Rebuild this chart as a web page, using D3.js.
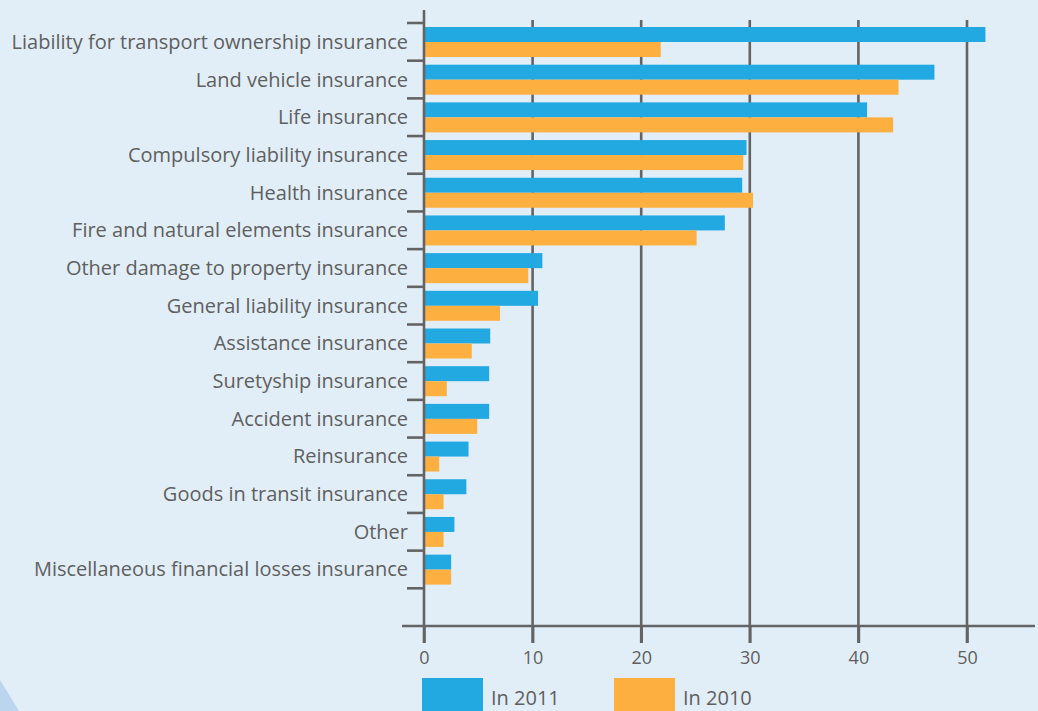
<!DOCTYPE html>
<html><head><meta charset="utf-8">
<script src="https://cdn.jsdelivr.net/npm/d3@7"></script>
<style>html,body{margin:0;padding:0;background:#e1eef8;overflow:hidden}</style>
</head><body>
<svg id="c" width="1038" height="711"></svg>
<script>
const categories = [
  "Liability for transport ownership insurance",
  "Land vehicle insurance",
  "Life insurance",
  "Compulsory liability insurance",
  "Health insurance",
  "Fire and natural elements insurance",
  "Other damage to property insurance",
  "General liability insurance",
  "Assistance insurance",
  "Suretyship insurance",
  "Accident insurance",
  "Reinsurance",
  "Goods in transit insurance",
  "Other",
  "Miscellaneous financial losses insurance"
];
const values2011 = [51.7, 47.0, 40.8, 29.7, 29.3, 27.7, 10.9, 10.5, 6.1, 6.0, 6.0, 4.1, 3.9, 2.8, 2.5];
const values2010 = [21.8, 43.7, 43.2, 29.4, 30.3, 25.1, 9.6, 7.0, 4.4, 2.1, 4.9, 1.4, 1.8, 1.8, 2.5];
const xTicks = [0, 10, 20, 30, 40, 50];
const seriesNames = ["In 2011", "In 2010"];
const colors = ["#23a9e1", "#fdb040"];

const svg = d3.select("#c");
const lineCol = "#646464";
const textCol = "#5f5f5f";
const font = "'Open Sans', Lato, sans-serif";

// background corner shape
svg.append("path").attr("d", "M0,680 L19,711 L0,711 Z").attr("fill", "#bcd5ee");

const x0 = 424, xEnd = 1035;
const x = d3.scaleLinear().domain([0, 50]).range([x0, 967]);
const slots = categories.concat(["__empty"]);
const y = d3.scaleBand().domain(slots).range([23, 626]).paddingInner(0).paddingOuter(0);
const barH = 15;

// gridlines
svg.append("g").selectAll("line").data(xTicks.slice(1)).join("line")
  .attr("x1", d => x(d)).attr("x2", d => x(d))
  .attr("y1", 20).attr("y2", 643)
  .attr("stroke", lineCol).attr("stroke-width", 2.6);

// bars
const g = svg.append("g");
categories.forEach((c, i) => {
  [values2011[i], values2010[i]].forEach((v, s) => {
    g.append("rect")
      .attr("x", x(0)).attr("y", y(c) + 4 + s * barH)
      .attr("width", x(v) - x(0)).attr("height", barH)
      .attr("fill", colors[s]);
  });
});

// y axis
svg.append("line").attr("x1", x0).attr("x2", x0).attr("y1", 10).attr("y2", 643)
  .attr("stroke", lineCol).attr("stroke-width", 2.6);
// category boundary ticks
const bounds = slots.map(s => y(s));
svg.append("g").selectAll("line").data(bounds).join("line")
  .attr("x1", 407).attr("x2", x0).attr("y1", d => d).attr("y2", d => d)
  .attr("stroke", lineCol).attr("stroke-width", 2.6);
// category labels
svg.append("g").selectAll("text").data(categories).join("text")
  .attr("x", 408).attr("y", d => y(d) + y.bandwidth() / 2)
  .attr("dy", "0.35em").attr("text-anchor", "end")
  .attr("font-family", font).attr("font-size", 20).attr("fill", textCol)
  .text(d => d);

// x axis
svg.append("line").attr("x1", 402).attr("x2", xEnd).attr("y1", 626).attr("y2", 626)
  .attr("stroke", lineCol).attr("stroke-width", 2.6);
const xAxis = d3.axisBottom(x).tickValues(xTicks).tickSize(17).tickPadding(8);
const xg = svg.append("g").attr("transform", "translate(0,626)").call(xAxis);
xg.select(".domain").remove();
xg.selectAll(".tick line").attr("stroke", lineCol).attr("stroke-width", 2.6);
xg.selectAll(".tick text").attr("font-family", font).attr("font-size", 18).attr("fill", textCol);

// legend
const legX = [422, 614];
seriesNames.forEach((n, i) => {
  svg.append("rect").attr("x", legX[i]).attr("y", 678).attr("width", 61).attr("height", 40).attr("fill", colors[i]);
  svg.append("text").attr("x", legX[i] + 69).attr("y", 705)
    .attr("font-family", font).attr("font-size", 20).attr("fill", textCol).text(n);
});
</script>
</body></html>
